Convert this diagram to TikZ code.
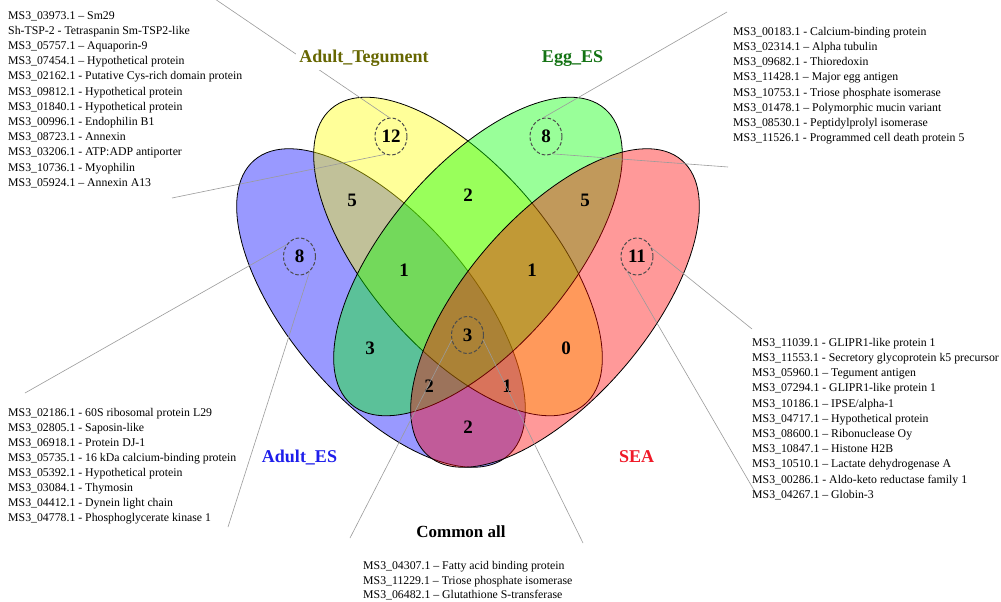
\documentclass[tikz,border=0pt]{standalone}
\usepackage{fontspec}
\setmainfont{Liberation Serif}
\usetikzlibrary{shapes.geometric}
\definecolor{cblue}{RGB}{0,0,255}
\definecolor{cyellow}{RGB}{255,255,0}
\definecolor{cgreen}{RGB}{0,255,0}
\definecolor{cred}{RGB}{255,0,0}
\definecolor{lteg}{RGB}{102,102,0}
\definecolor{legg}{RGB}{20,115,20}
\definecolor{lades}{RGB}{30,30,235}
\definecolor{lsea}{RGB}{240,25,40}
\definecolor{leadgray}{RGB}{155,155,155}
\begin{document}
\begin{tikzpicture}[x=1pt,y=-1pt,
  setshape/.style={draw=black, line width=0.8pt, fill opacity=0.4},
  num/.style={font=\fontsize{19}{19}\selectfont\bfseries, inner sep=0pt},
  ring/.style={ellipse, draw=black!70, dash pattern=on 3.5pt off 2pt, line width=1pt,
     minimum width=32pt, minimum height=37pt, inner sep=0pt,
     font=\fontsize{19}{19}\selectfont\bfseries},
  lead/.style={draw=leadgray, line width=0.6pt},
  list/.style={font=\fontsize{11.8}{15.2}\selectfont, align=left, anchor=north west, inner sep=0pt},
  setlabel/.style={font=\fontsize{18}{18}\selectfont\bfseries, anchor=base}
]
\useasboundingbox (0,0) rectangle (1001,602);
\fill[white] (0,0) rectangle (1001,602);

% ellipses
\path[setshape, fill=cblue, rotate around={-49.4:(381,308)}] (381,308) ellipse [x radius=194.7pt, y radius=91pt];
\path[setshape, fill=cyellow, rotate around={-49.4:(458,256.5)}] (458,256.5) ellipse [x radius=194.7pt, y radius=91pt];
\path[setshape, fill=cgreen, rotate around={49.4:(478,256.5)}] (478,256.5) ellipse [x radius=194.7pt, y radius=91pt];
\path[setshape, fill=cred, rotate around={49.4:(555,308)}] (555,308) ellipse [x radius=194.7pt, y radius=91pt];

% region numbers
\node[num] (n5a) at (352,200) {5};
\node[num] (n2a) at (468,195) {2};
\node[num] (n5b) at (585,200) {5};
\node[num] (n1a) at (404,270) {1};
\node[num] (n1b) at (532,270) {1};
\node[num] (n3a) at (370,348) {3};
\node[num] (n0) at (566,348) {0};
\node[num] (n2b) at (429,386) {2};
\node[num] (n1c) at (507,386) {1};
\node[num] (n2c) at (468,427) {2};

% dashed rings
\node[ring] (c12) at (391,136.5) {12};
\node[ring] (c8g) at (546,136.5) {8};
\node[ring] (c8b) at (299.5,256.5) {8};
\node[ring] (c11) at (637,256.5) {11};
\node[ring] (c3) at (467.5,335) {3};

% leader end points
\coordinate (e12a) at (215,-1);
\coordinate (e12b) at (172,198);
\coordinate (e8ga) at (727,12);
\coordinate (e8gb) at (728,167);
\coordinate (e8ba) at (25,393);
\coordinate (e8bb) at (228,527);
\coordinate (e11a) at (752,329);
\coordinate (e11b) at (758,497);
\coordinate (e3a) at (350,538);
\coordinate (e3b) at (583,543);

\draw[lead] (c12.95) -- (e12a);
\draw[lead] (c12.252) -- (e12b);
\draw[lead] (c8g.99) -- (e8ga);
\draw[lead] (c8g.291) -- (e8gb);
\draw[lead] (c8b.137) -- (e8ba);
\draw[lead] (c8b.304) -- (e8bb);
\draw[lead] (c11.30) -- (e11a);
\draw[lead] (c11.237) -- (e11b);
\draw[lead] (c3.198) -- (e3a);
\draw[lead] (c3.342) -- (e3b);

% set labels
\node[setlabel, text=lteg, fill=white, inner sep=3pt] (lt) at (364,63) {Adult\_Tegument};
\node[setlabel, text=legg] (le) at (572.5,63) {Egg\_ES};
\node[setlabel, text=lades] (la) at (299.5,462) {Adult\_ES};
\node[setlabel, text=lsea] (ls) at (636.5,462) {SEA};
\node[font=\fontsize{17}{17}\selectfont\bfseries, anchor=base] (lc) at (461,537) {Common all};

% lists
\node[list] (tl) at (8,11) {MS3\_03973.1 – Sm29\\
Sh-TSP-2 - Tetraspanin Sm-TSP2-like\\
MS3\_05757.1 – Aquaporin-9\\
MS3\_07454.1 – Hypothetical protein\\
MS3\_02162.1 - Putative Cys-rich domain protein\\
MS3\_09812.1 - Hypothetical protein\\
MS3\_01840.1 - Hypothetical protein\\
MS3\_00996.1 - Endophilin B1\\
MS3\_08723.1 - Annexin\\
MS3\_03206.1 - ATP:ADP antiporter\\
MS3\_10736.1 - Myophilin\\
MS3\_05924.1 – Annexin A13};

\node[list] (tr) at (733,27) {MS3\_00183.1 - Calcium-binding protein\\
MS3\_02314.1 – Alpha tubulin\\
MS3\_09682.1 - Thioredoxin\\
MS3\_11428.1 – Major egg antigen\\
MS3\_10753.1 - Triose phosphate isomerase\\
MS3\_01478.1 – Polymorphic mucin variant\\
MS3\_08530.1 - Peptidylprolyl isomerase\\
MS3\_11526.1 - Programmed cell death protein 5};

\node[list] (rl) at (752,338) {MS3\_11039.1 - GLIPR1-like protein 1\\
MS3\_11553.1 - Secretory glycoprotein k5 precursor\\
MS3\_05960.1 – Tegument antigen\\
MS3\_07294.1 - GLIPR1-like protein 1\\
MS3\_10186.1 – IPSE/alpha-1\\
MS3\_04717.1 – Hypothetical protein\\
MS3\_08600.1 – Ribonuclease Oy\\
MS3\_10847.1 – Histone H2B\\
MS3\_10510.1 – Lactate dehydrogenase A\\
MS3\_00286.1 - Aldo-keto reductase family 1\\
MS3\_04267.1 – Globin-3};

\node[list, font=\fontsize{11.8}{15}\selectfont] (bl) at (8,408) {MS3\_02186.1 - 60S ribosomal protein L29\\
MS3\_02805.1 - Saposin-like\\
MS3\_06918.1 - Protein DJ-1\\
MS3\_05735.1 - 16 kDa calcium-binding protein\\
MS3\_05392.1 - Hypothetical protein\\
MS3\_03084.1 - Thymosin\\
MS3\_04412.1 - Dynein light chain\\
MS3\_04778.1 - Phosphoglycerate kinase 1};

\node[list, font=\fontsize{11.8}{14.8}\selectfont] (bt) at (363,561) {MS3\_04307.1 – Fatty acid binding protein\\
MS3\_11229.1 – Triose phosphate isomerase\\
MS3\_06482.1 – Glutathione S-transferase};
\end{tikzpicture}
\end{document}
